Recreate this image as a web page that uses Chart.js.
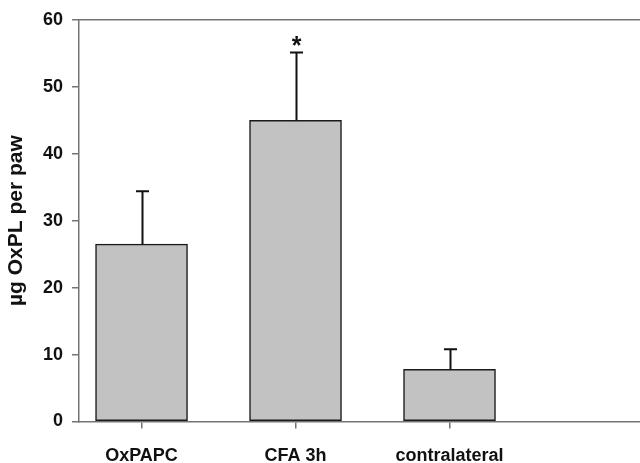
<!DOCTYPE html>
<html>
<head>
<meta charset="utf-8">
<script src="https://cdn.jsdelivr.net/npm/chart.js@4"></script>
<style>
  html, body { margin: 0; padding: 0; background: #ffffff; }
  canvas { display: block; }
</style>
</head>
<body>
<canvas id="chart" width="640" height="463"></canvas>
<script>
// Group names, mean amount of oxidized phospholipid and upper SEM
const categories = ['OxPAPC', 'CFA 3h', 'contralateral'];
const means = [26.5, 45.0, 7.8];
const errors = [7.9, 10.1, 3.0];
const significant = [false, true, false];
const yTicks = [0, 10, 20, 30, 40, 50, 60];

const AXIS_GREY = '#747474';
const FONT = 'Liberation Sans, Arial, Helvetica, sans-serif';

// One-sided error bars, significance star and the top frame line
const overlayPlugin = {
  id: 'overlay',
  afterDatasetsDraw(chart) {
    const { ctx, scales: { x, y }, chartArea } = chart;
    ctx.save();
    // top frame line
    ctx.strokeStyle = AXIS_GREY;
    ctx.lineWidth = 1.5;
    ctx.beginPath();
    ctx.moveTo(chartArea.left, chartArea.top);
    ctx.lineTo(chartArea.right, chartArea.top);
    ctx.stroke();

    ctx.strokeStyle = '#111111';
    ctx.lineWidth = 2;
    means.forEach((m, i) => {
      const cx = Math.round(x.getPixelForValue(i)) + 0.5;
      const yTop = y.getPixelForValue(m);
      const yErr = y.getPixelForValue(m + errors[i]);
      ctx.beginPath();
      ctx.moveTo(cx, yTop);
      ctx.lineTo(cx, yErr);
      ctx.moveTo(cx - 6.5, yErr);
      ctx.lineTo(cx + 6.5, yErr);
      ctx.stroke();
      if (significant[i]) {
        ctx.fillStyle = '#111111';
        ctx.font = 'bold 25px ' + FONT;
        ctx.textAlign = 'center';
        ctx.textBaseline = 'alphabetic';
        ctx.fillText('*', cx, yErr + 1);
      }
    });
    ctx.restore();
  }
};

new Chart(document.getElementById('chart'), {
  type: 'bar',
  data: {
    datasets: [{
      data: means.map((v, i) => ({ x: i, y: v })),
      backgroundColor: '#c2c2c2',
      borderColor: '#1a1a1a',
      borderWidth: 1.5,
      borderSkipped: false,
      barThickness: 92
    }]
  },
  options: {
    responsive: false,
    animation: false,
    devicePixelRatio: 1,
    layout: { padding: { top: 15.5, right: 0, left: 0, bottom: 0 } },
    plugins: {
      legend: { display: false },
      tooltip: { enabled: false }
    },
    scales: {
      x: {
        type: 'linear',
        offset: false,
        min: -0.406,
        max: 3.237,
        afterBuildTicks(scale) {
          scale.ticks = categories.map((_, i) => ({ value: i }));
        },
        afterFit(scale) { scale.height = 41.5; },
        grid: {
          offset: false,
          drawOnChartArea: false,
          tickLength: 7,
          color: AXIS_GREY,
          lineWidth: 1.5
        },
        border: { color: AXIS_GREY, width: 1.5 },
        ticks: {
          autoSkip: false,
          maxRotation: 0,
          padding: 17,
          color: '#111111',
          font: { family: FONT, size: 18, weight: 'bold' },
          callback: (v) => categories[v]
        }
      },
      y: {
        min: 0,
        max: 60,
        afterBuildTicks(scale) {
          scale.ticks = yTicks.map(v => ({ value: v }));
        },
        afterFit(scale) { scale.width = 79; },
        grid: {
          drawOnChartArea: false,
          tickLength: 7,
          color: AXIS_GREY,
          lineWidth: 1.5
        },
        border: { color: AXIS_GREY, width: 1.5 },
        ticks: {
          padding: 9,
          color: '#111111',
          font: { family: FONT, size: 18, weight: 'bold' }
        },
        title: {
          display: true,
          text: 'µg OxPL per paw',
          color: '#111111',
          padding: { top: 4, bottom: 0 },
          font: { family: FONT, size: 21, weight: 'bold' }
        }
      }
    }
  },
  plugins: [overlayPlugin]
});
</script>
</body>
</html>
